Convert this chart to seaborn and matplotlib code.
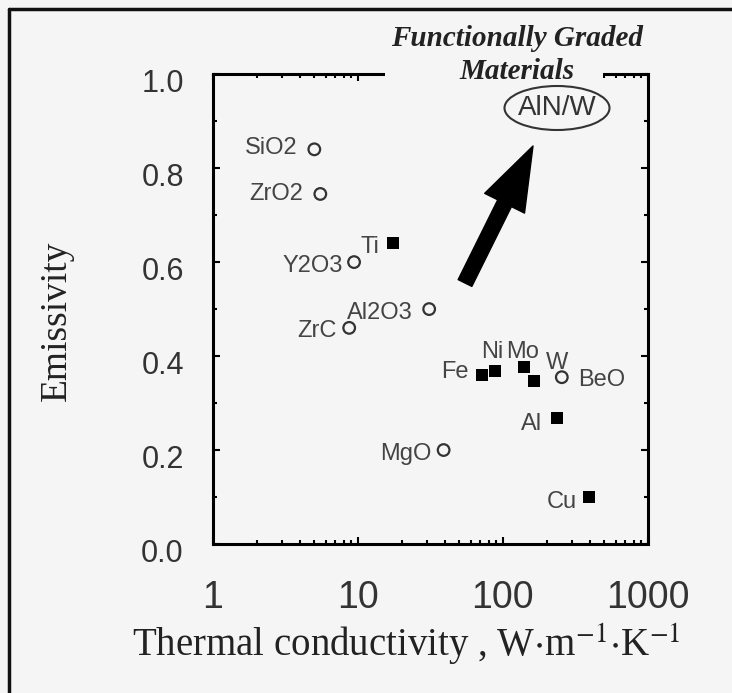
import matplotlib
matplotlib.use("Agg")
import matplotlib.pyplot as plt
import matplotlib.transforms as mtransforms
import seaborn as sns
import pandas as pd
from matplotlib.patches import Ellipse, Rectangle
from matplotlib.lines import Line2D

# emissivity vs thermal conductivity
ceramics = ["SiO2", "ZrO2", "Y2O3", "Al2O3", "ZrC", "BeO", "MgO"]
ceramic_k = [5.0, 5.5, 9.4, 31, 8.7, 255, 39]
ceramic_e = [0.84, 0.745, 0.60, 0.50, 0.46, 0.355, 0.20]

metals = ["Ti", "Fe", "Ni", "Mo", "W", "Al", "Cu"]
metal_k = [17.5, 72, 88, 139, 164, 235, 390]
metal_e = [0.64, 0.36, 0.368, 0.377, 0.347, 0.268, 0.10]

y_ticks = [0.0, 0.2, 0.4, 0.6, 0.8, 1.0]
x_ticks = [1, 10, 100, 1000]

# label offsets in pixels (ha, dx, dy)
label_pos = {
    "SiO2": ("right", -17, 1), "ZrO2": ("right", -17, 0),
    "Y2O3": ("right", -11, -4), "Al2O3": ("center", -49, -4),
    "ZrC": ("center", -32, -3), "BeO": ("center", 40, -3),
    "MgO": ("center", -38, -4), "Ti": ("center", -23, -4),
    "Fe": ("center", -27, 3), "Ni": ("center", -3, 19),
    "Mo": ("center", -1, 15), "W": ("center", 23, 18),
    "Al": ("center", -25, -6), "Cu": ("center", -27, -5),
}

cer = pd.DataFrame({"name": ceramics, "k": ceramic_k, "e": ceramic_e})
met = pd.DataFrame({"name": metals, "k": metal_k, "e": metal_e})

sns.set_style("ticks")
bg = "#f5f5f5"
plt.rcParams["mathtext.fontset"] = "stix"

fig = plt.figure(figsize=(7.32, 6.93), dpi=100, facecolor=bg)
ax = fig.add_axes([0.291, 0.215, 0.594, 0.678])
ax.set_facecolor(bg)

sns.scatterplot(data=cer, x="k", y="e", ax=ax, marker="o", s=70,
                facecolor="none", edgecolor="#333333", linewidth=1.6, zorder=3)
sns.scatterplot(data=met, x="k", y="e", ax=ax, marker="s", s=85,
                color="black", edgecolor="black", linewidth=0, zorder=3)

ax.set_xscale("log")
ax.set_xlim(1, 1000)
ax.set_ylim(0, 1.0)
ax.set_xticks(x_ticks)
ax.set_xticklabels([str(t) for t in x_ticks], fontsize=27, color="#333333",
                   family="Liberation Sans")
ax.set_yticks(y_ticks)
ax.set_yticklabels([f"{t:.1f}" for t in y_ticks], fontsize=22, color="#333333",
                   family="Liberation Sans")
ax.set_yticks([0.1, 0.3, 0.5, 0.7, 0.9], minor=True)
ax.tick_params(which="both", direction="in", top=True, right=True, color="black")
ax.tick_params(which="major", length=5, width=1.5)
ax.tick_params(which="minor", length=3, width=1.5)
ax.tick_params(axis="x", which="major", pad=26)
ax.tick_params(axis="y", which="major", pad=21)
for sp in ax.spines.values():
    sp.set_linewidth(2.2)
    sp.set_color("black")

# y tick labels sit a little below their ticks in the original
shift = mtransforms.ScaledTranslation(0, -6 / 100, fig.dpi_scale_trans)
for lab in ax.get_yticklabels():
    lab.set_transform(lab.get_transform() + shift)

for df in (cer, met):
    for _, r in df.iterrows():
        ha, dx, dy = label_pos[r["name"]]
        ax.annotate(r["name"], (r["k"], r["e"]), xytext=(dx, dy),
                    textcoords="offset pixels", ha=ha, va="center",
                    fontsize=17, color="#444444", family="Liberation Sans")

ax.set_xlabel("Thermal conductivity , W$\\cdot$m$^{-1}$$\\cdot$K$^{-1}$",
              fontsize=28, family="Liberation Serif", color="#222222")
ax.xaxis.set_label_coords(0.445, -0.165)
ax.set_ylabel("Emissivity", fontsize=27, family="Liberation Serif", color="#222222")
ax.yaxis.set_label_coords(-0.32, 0.475)

# gap in the top spine behind the title
ax.add_patch(Rectangle((0.395, 0.985), 0.502, 0.04, transform=ax.transAxes,
                       facecolor=bg, edgecolor="none", clip_on=False, zorder=10))

fig.text(517 / 732, 1 - 55 / 693, "Functionally Graded\nMaterials", ha="center",
         va="center", fontsize=21, fontweight="bold", fontstyle="italic",
         family="Liberation Serif", color="#222222", linespacing=1.3)

fig.add_artist(Ellipse((557 / 732, 1 - 108 / 693), 105 / 732, 44 / 693,
                       transform=fig.transFigure, facecolor="none",
                       edgecolor="#333333", linewidth=1.5))
fig.text(557 / 732, 1 - 108 / 693, "AlN/W", ha="center", va="center",
         fontsize=20, family="Liberation Sans", color="#333333")

ax.annotate("", xy=(533 / 732, 1 - 146 / 693), xycoords="figure fraction",
            xytext=(465 / 732, 1 - 283 / 693), textcoords="figure fraction",
            arrowprops=dict(arrowstyle="simple,head_length=2.3,head_width=1.6,tail_width=0.55",
                            mutation_scale=20, color="black", shrinkA=0, shrinkB=0))

# outer frame
fig.add_artist(Line2D([9 / 732, 9 / 732], [0, 1 - 9 / 693], transform=fig.transFigure,
                      color="#111111", linewidth=2.5))
fig.add_artist(Line2D([9 / 732, 1], [1 - 9 / 693, 1 - 9 / 693], transform=fig.transFigure,
                      color="#111111", linewidth=2.5))

fig.savefig("out.png", dpi=100, facecolor=bg)
